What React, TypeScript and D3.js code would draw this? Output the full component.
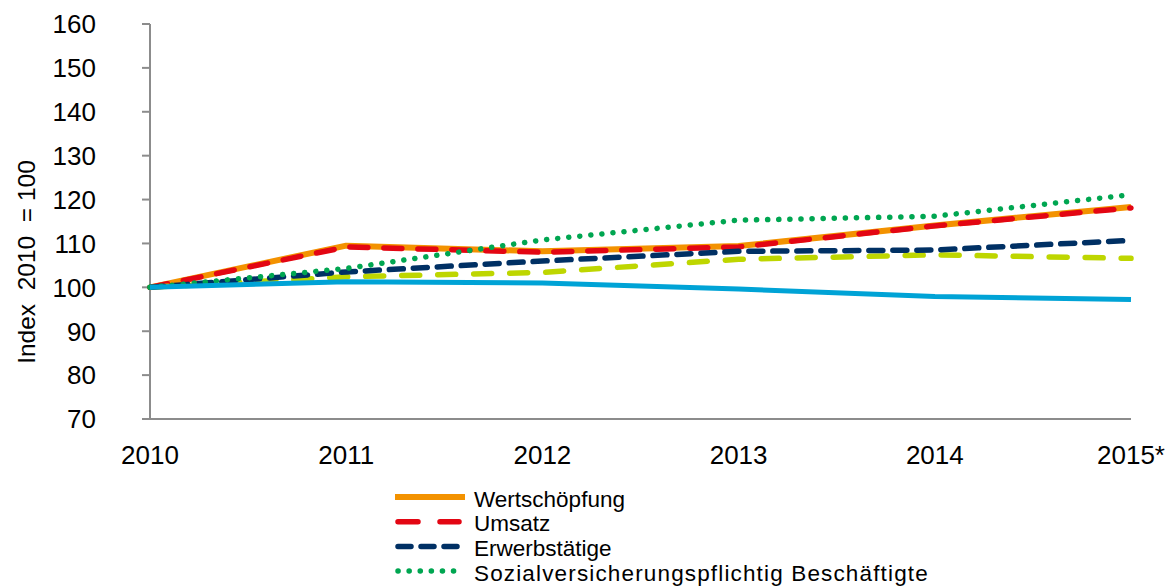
import * as d3 from "d3";

const years = ["2010", "2011", "2012", "2013", "2014", "2015*"];
const yTicks = [70, 80, 90, 100, 110, 120, 130, 140, 150, 160];

const wertschoepfung = [100, 109.5, 108.2, 109.4, 114.1, 118.3];
const umsatz = [100, 109.2, 108.0, 109.2, 114.0, 118.1];
const erwerbstaetige = [100, 103.5, 106.0, 108.2, 108.5, 110.7];
const sozialversichert = [100, 104.3, 110.8, 115.3, 116.2, 121.1];
const gruen = [100, 102.4, 103.4, 106.4, 107.4, 106.6];
const blau = [100, 101.3, 101.0, 99.6, 97.9, 97.2];

const W = 1175;
const H = 588;
const left = 150;
const right = 1131;
const top = 24;
const bottom = 419;

const series = [
  { name: "Wertschöpfung", values: wertschoepfung, color: "#F39200", width: 6, dash: "", cap: "butt", legend: true, spacing: 0 },
  { name: "Umsatz", values: umsatz, color: "#E30613", width: 5.5, dash: "18 16", cap: "round", legend: true, spacing: 0 },
  { name: "gruen", values: gruen, color: "#BED600", width: 5.5, dash: "18 18", cap: "round", legend: false, spacing: 0 },
  { name: "Erwerbstätige", values: erwerbstaetige, color: "#003064", width: 5.5, dash: "14 10", cap: "round", legend: true, spacing: 0 },
  { name: "Sozialversicherungspflichtig Beschäftigte", values: sozialversichert, color: "#00A651", width: 5.5, dash: "0.1 11", cap: "round", legend: true, spacing: 1.15 },
  { name: "blau", values: blau, color: "#00A3D6", width: 5, dash: "", cap: "butt", legend: false, spacing: 0 },
];

export default function App() {
  const x = d3.scalePoint<string>().domain(years).range([left, right]);
  const y = d3.scaleLinear().domain([70, 160]).range([bottom, top]);
  const line = d3
    .line<number>()
    .x((_, i) => x(years[i]) as number)
    .y((d) => y(d));

  const legendItems = series.filter((s) => s.legend);

  return (
    <div style={{ position: "absolute", left: 0, top: 0 }}>
      <svg width={W} height={H} style={{ display: "block", fontFamily: "'Liberation Sans', Arial, sans-serif" }}>
        <rect width={W} height={H} fill="#fff" />
        {/* axes */}
        <line x1={left} x2={left} y1={top} y2={bottom} stroke="#8c8c8c" strokeWidth={2} />
        <line x1={left - 8} x2={right} y1={bottom} y2={bottom} stroke="#8c8c8c" strokeWidth={2} />
        {yTicks.map((t) => (
          <g key={t}>
            <line x1={left - 8} x2={left} y1={y(t)} y2={y(t)} stroke="#8c8c8c" strokeWidth={2} />
            <text x={96} y={y(t)} dy="0.36em" textAnchor="end" fontSize={26} fill="#000">
              {t}
            </text>
          </g>
        ))}
        {years.map((yr) => (
          <text key={yr} x={x(yr) as number} y={464} textAnchor="middle" fontSize={26} fill="#000">
            {yr}
          </text>
        ))}
        <text
          transform={`translate(35,262) rotate(-90)`}
          textAnchor="middle"
          fontSize={24.5}
          fill="#000"
          style={{ whiteSpace: "pre" }}
        >
          {"Index  2010  = 100"}
        </text>

        {/* lines */}
        {series.map((s) => (
          <path
            key={s.name}
            d={line(s.values) ?? ""}
            fill="none"
            stroke={s.color}
            strokeWidth={s.width}
            strokeDasharray={s.dash || undefined}
            strokeLinecap={s.cap as any}
            strokeLinejoin="round"
          />
        ))}

        {/* legend */}
        {legendItems.map((s, i) => {
          const ly = 497 + i * 24.7;
          return (
            <g key={s.name}>
              <line
                x1={s.cap === "round" ? 398 : 395}
                x2={s.cap === "round" ? 459 : 465}
                y1={ly}
                y2={ly}
                stroke={s.color}
                strokeWidth={s.width}
                strokeDasharray={
                  s.name === "Umsatz" ? "20 22" : s.name === "Erwerbstätige" ? "13 10" : s.dash || undefined
                }
                strokeLinecap={s.cap as any}
              />
              <text x={474} y={ly + 9.5} fontSize={22.5} fill="#000" letterSpacing={s.spacing}>
                {s.name}
              </text>
            </g>
          );
        })}
      </svg>
    </div>
  );
}
